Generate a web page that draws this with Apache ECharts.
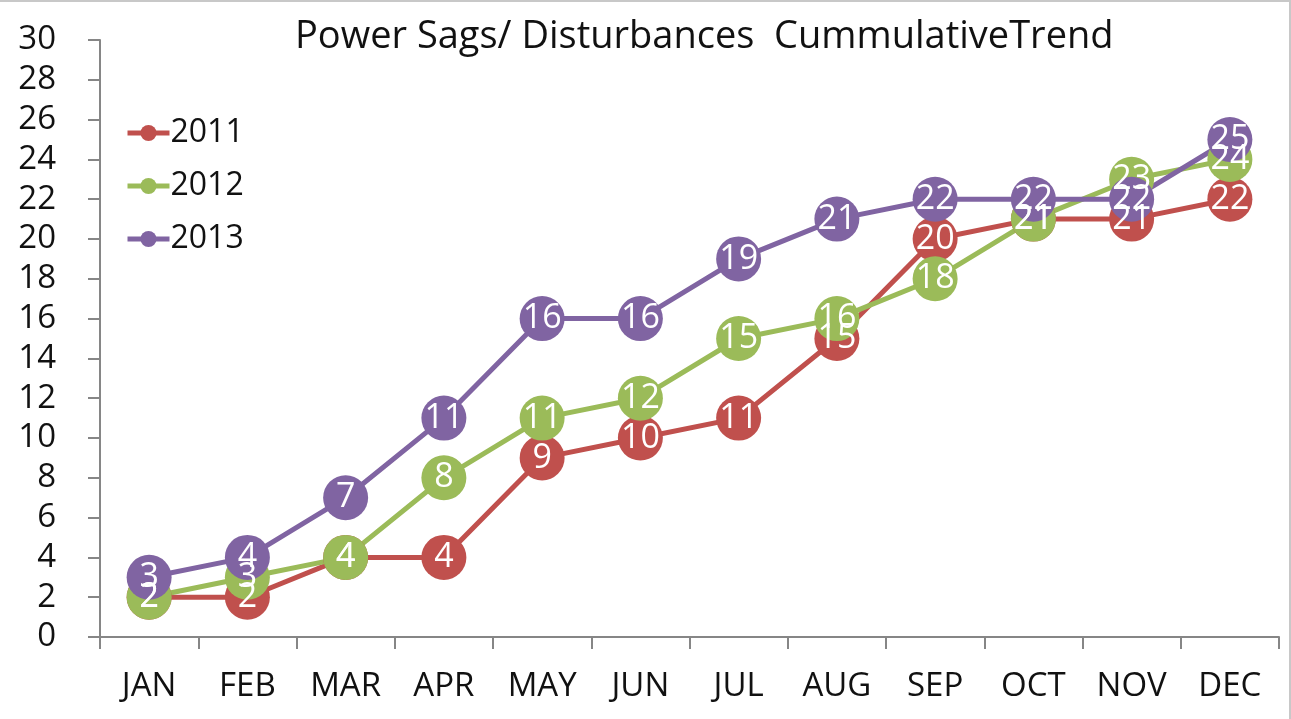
<!DOCTYPE html>
<html><head><meta charset="utf-8">
<script src="https://cdn.jsdelivr.net/npm/echarts@6/dist/echarts.min.js"></script>
<style>html,body{margin:0;padding:0;background:#fff}#c{width:1291px;height:719px;box-sizing:border-box;border-top:2px solid #c8c8c8;border-right:2px solid #c8c8c8}</style>
</head><body><div id="c"></div>
<script>
const months = ['JAN','FEB','MAR','APR','MAY','JUN','JUL','AUG','SEP','OCT','NOV','DEC'];
const s2011 = [2,2,4,4,9,10,11,15,20,21,21,22];
const s2012 = [2,3,4,8,11,12,15,16,18,21,23,24];
const s2013 = [3,4,7,11,16,16,19,21,22,22,22,25];
const names = ['2011','2012','2013'];
const colors = ['#C0504D','#9BBB59','#8064A2'];
const font = 'Open Sans';
const chart = echarts.init(document.getElementById('c'));
function mk(name, data, color){
  return {name, type:'line', data, symbol:'circle', symbolSize:45,
    itemStyle:{color}, lineStyle:{width:5,color},
    label:{show:true, position:'inside', color:'#fff', fontSize:34, fontFamily:font},
    emphasis:{disabled:true}, animation:false};
}
chart.setOption({
  animation:false,
  title:{text:'Power Sags/ Disturbances  CummulativeTrend', left:290, top:11,
    textStyle:{fontSize:38, fontWeight:'normal', color:'#111', fontFamily:font}},
  legend:{orient:'vertical', left:120, top:110, itemGap:21, itemWidth:42, itemHeight:20,
    lineStyle:{width:5},
    textStyle:{fontSize:32, color:'#111', fontFamily:font, padding:[0,0,0,-4]}, data:names},
  grid:{left:100, right:10, top:38, bottom:82},
  xAxis:{type:'category', data:months, boundaryGap:true,
    axisLine:{lineStyle:{color:'#868686', width:2}},
    axisTick:{show:true, length:12, interval:0, lineStyle:{color:'#868686',width:2}},
    axisLabel:{fontSize:33, color:'#111', margin:33, fontFamily:font, interval:0}},
  yAxis:{type:'value', min:0, max:30, interval:2,
    axisLine:{show:true, lineStyle:{color:'#868686', width:2}},
    axisTick:{show:true, length:12, lineStyle:{color:'#868686',width:2}},
    splitLine:{show:false},
    axisLabel:{fontSize:33, color:'#111', margin:44, fontFamily:font}},
  series:[mk(names[0], s2011, colors[0]), mk(names[1], s2012, colors[1]), mk(names[2], s2013, colors[2])]
});
</script></body></html>
